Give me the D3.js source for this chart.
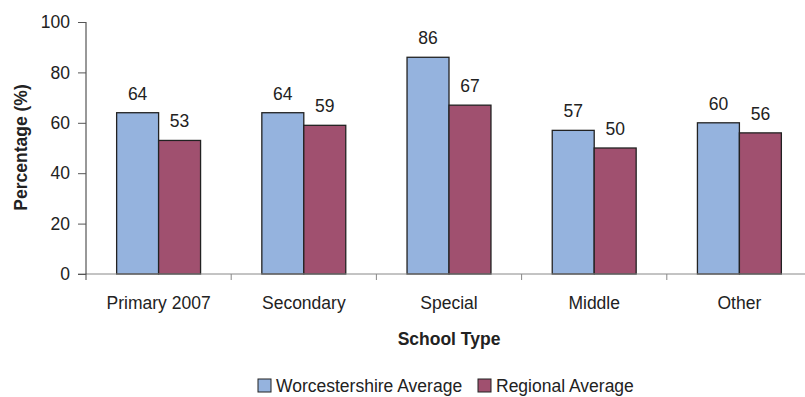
<!DOCTYPE html>
<html>
<head>
<meta charset="utf-8">
<script src="https://cdn.jsdelivr.net/npm/d3@7"></script>
<style>
  body { margin: 0; background: #fff; }
  svg { font-family: "Liberation Sans", Arial, sans-serif; }
</style>
</head>
<body>
<div id="wrapper"></div>
<script>
const categories = ["Primary 2007", "Secondary", "Special", "Middle", "Other"];
const seriesNames = ["Worcestershire Average", "Regional Average"];
const worcsValues = [64, 64, 86, 57, 60];
const regionalValues = [53, 59, 67, 50, 56];
const yTicks = [0, 20, 40, 60, 80, 100];
const colors = ["#95b3de", "#a0506f"];

const width = 805, height = 397;
const plot = { left: 86, right: 812, top: 22, bottom: 274 };
const fontSize = 17.5;

const svg = d3.select("#wrapper").append("svg")
    .attr("width", width)
    .attr("height", height);

const xScaler = d3.scaleBand()
    .domain(categories)
    .range([plot.left, plot.right])
    .padding(0);

const innerScaler = d3.scaleBand()
    .domain(seriesNames)
    .range([0, xScaler.bandwidth()])
    .paddingInner(0)
    .paddingOuter(0.73);

const yScaler = d3.scaleLinear()
    .domain([0, 100])
    .range([plot.bottom, plot.top]);

const data = categories.map((c, i) => ({
    cat: c,
    vals: [
        { s: seriesNames[0], v: worcsValues[i], c: colors[0] },
        { s: seriesNames[1], v: regionalValues[i], c: colors[1] }
    ]
}));

// bars
const groups = svg.append("g").selectAll("g")
    .data(data).join("g")
    .attr("transform", d => `translate(${xScaler(d.cat)},0)`);

groups.selectAll("rect")
    .data(d => d.vals).join("rect")
    .attr("x", d => innerScaler(d.s))
    .attr("y", d => yScaler(d.v))
    .attr("width", innerScaler.bandwidth())
    .attr("height", d => yScaler(0) - yScaler(d.v))
    .attr("fill", d => d.c)
    .attr("stroke", "#222")
    .attr("stroke-width", 1.3);

groups.selectAll("text")
    .data(d => d.vals).join("text")
    .attr("x", d => innerScaler(d.s) + innerScaler.bandwidth() / 2)
    .attr("y", d => yScaler(d.v) - 13)
    .attr("text-anchor", "middle")
    .attr("font-size", fontSize)
    .attr("fill", "#222")
    .text(d => d.v);

// x axis
const xAxis = d3.axisBottom(xScaler)
    .tickSize(0)
    .tickPadding(23);
const gx = svg.append("g")
    .attr("transform", `translate(0, ${plot.bottom})`)
    .call(xAxis);
gx.select(".domain").attr("stroke", "#888").attr("d", `M${plot.left - 8},0H${width}`);
gx.selectAll("text").attr("font-size", fontSize).attr("fill", "#222")
    .attr("font-family", "Liberation Sans, Arial, sans-serif");

// boundary ticks between categories
gx.selectAll(".bound")
    .data(categories)
    .join("line")
    .attr("class", "bound")
    .attr("x1", d => xScaler(d) + xScaler.bandwidth())
    .attr("x2", d => xScaler(d) + xScaler.bandwidth())
    .attr("y1", 0).attr("y2", 6)
    .attr("stroke", "#888");
gx.append("line")
    .attr("x1", plot.left).attr("x2", plot.left)
    .attr("y1", 0).attr("y2", 6)
    .attr("stroke", "#444");

// y axis
const yAxis = d3.axisLeft(yScaler)
    .tickValues(yTicks)
    .tickSize(8)
    .tickPadding(8);
const gy = svg.append("g")
    .attr("transform", `translate(${plot.left}, 0)`)
    .call(yAxis);
gy.select(".domain").attr("stroke", "#333").attr("d", `M0,${plot.top}V${plot.bottom}`);
gy.selectAll(".tick line").attr("stroke", "#555");
gy.selectAll("text").attr("font-size", fontSize).attr("fill", "#222")
    .attr("font-family", "Liberation Sans, Arial, sans-serif");

// axis titles
svg.append("text")
    .attr("transform", `translate(27, ${(plot.top + plot.bottom) / 2 - 0.5}) rotate(-90)`)
    .attr("text-anchor", "middle")
    .attr("font-size", fontSize)
    .attr("font-weight", "bold")
    .attr("fill", "#222")
    .text("Percentage (%)");

svg.append("text")
    .attr("x", 449)
    .attr("y", 345)
    .attr("text-anchor", "middle")
    .attr("font-size", fontSize)
    .attr("font-weight", "bold")
    .attr("fill", "#222")
    .text("School Type");

// legend
const legendX = [258, 478];
const legend = svg.append("g").selectAll("g")
    .data(seriesNames).join("g")
    .attr("transform", (d, i) => `translate(${legendX[i]}, 379)`);
legend.append("rect")
    .attr("width", 13).attr("height", 13)
    .attr("fill", (d, i) => colors[i])
    .attr("stroke", "#222");
legend.append("text")
    .attr("x", 18).attr("y", 13)
    .attr("font-size", fontSize)
    .attr("fill", "#222")
    .text(d => d);
</script>
</body>
</html>
